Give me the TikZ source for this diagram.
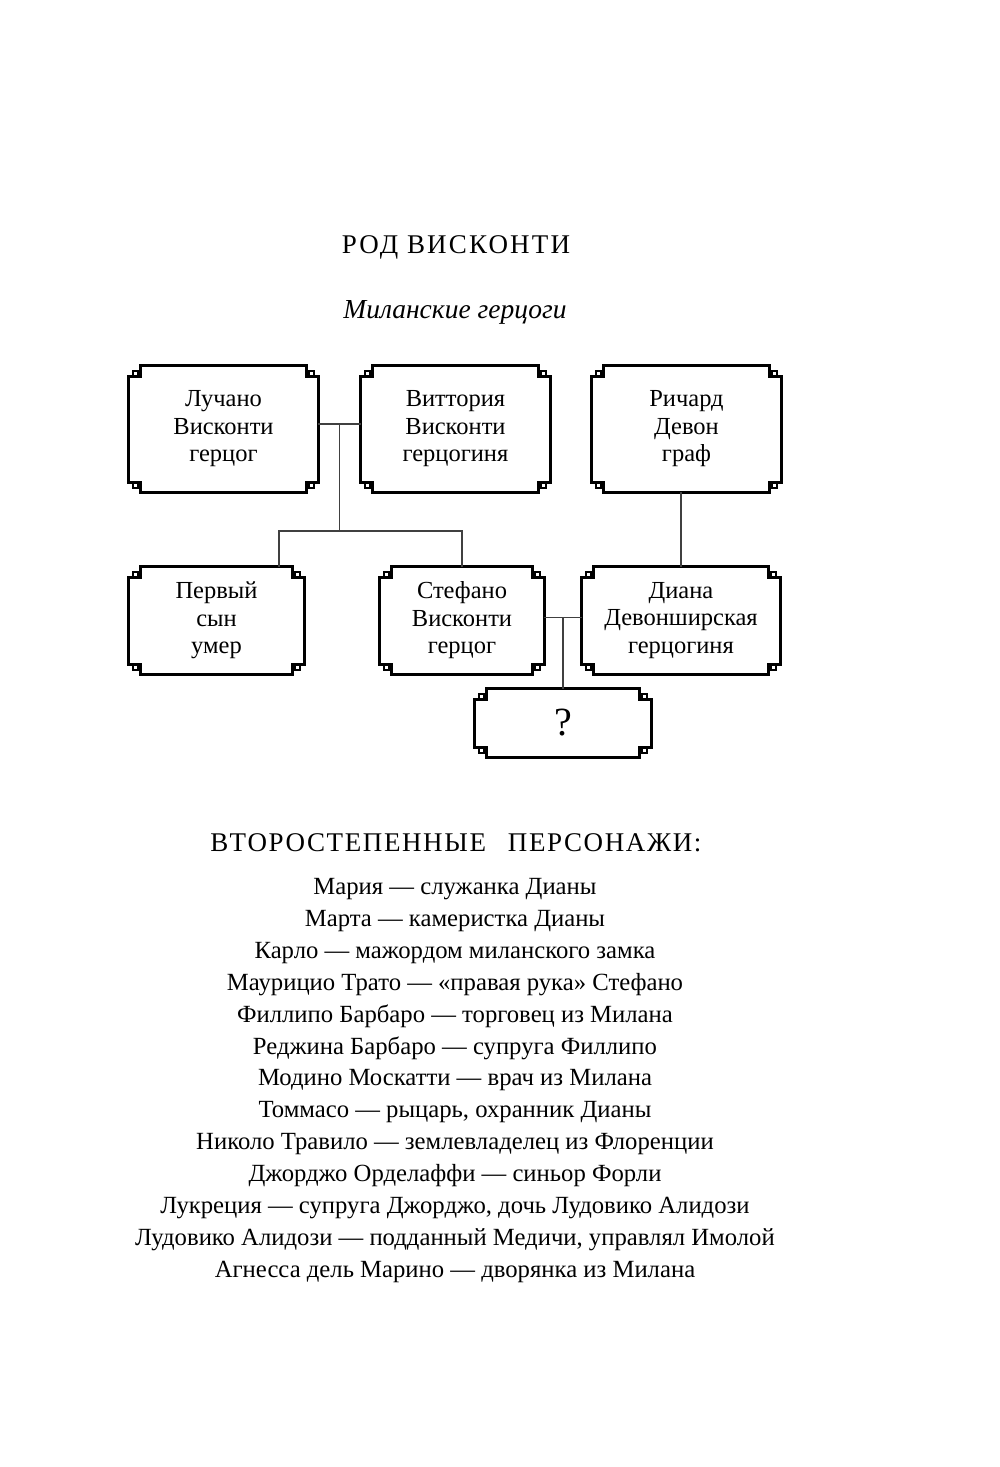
\documentclass[tikz,border=0pt]{standalone}
\usepackage{fontspec}
\setmainfont{Liberation Serif}
\newfontfamily\spacedfont[LetterSpace=6]{Liberation Serif}
\newfontfamily\titlefont[LetterSpace=8]{Liberation Serif}
\usetikzlibrary{calc}
\tikzset{
  boxn/.style={inner sep=0pt, align=center, font=\fontsize{24.5}{27.5}\selectfont},
  frame/.style={draw=black, line width=2.8pt, line join=miter},
  key/.style={draw=black, line width=2pt},
  conn/.style={draw=black!75, line width=1.3pt},
}
\newcommand\fancyframe[1]{%
  \draw[frame] let \p1=(#1.north west), \p2=(#1.south east) in
    ({\x1+12pt},\y1) -- ({\x2-12pt},\y1) -- ({\x2-12pt},{\y1-11pt}) -- (\x2,{\y1-11pt})
    -- (\x2,{\y2+10pt}) -- ({\x2-12pt},{\y2+10pt}) -- ({\x2-12pt},\y2) -- ({\x1+12pt},\y2)
    -- ({\x1+12pt},{\y2+10pt}) -- (\x1,{\y2+10pt}) -- (\x1,{\y1-11pt}) -- ({\x1+12pt},{\y1-11pt}) -- cycle;
  \draw[key] let \p1=(#1.north west), \p2=(#1.south east) in
    ({\x1+4pt},{\y1-11pt}) rectangle ({\x1+9pt},{\y1-5pt})
    ({\x2-4pt},{\y1-11pt}) rectangle ({\x2-9pt},{\y1-5pt})
    ({\x1+4pt},{\y2+10pt}) rectangle ({\x1+9pt},{\y2+4pt})
    ({\x2-4pt},{\y2+10pt}) rectangle ({\x2-9pt},{\y2+4pt});
}
\begin{document}
\begin{tikzpicture}[x=1pt,y=-1pt]
\useasboundingbox (0,0) rectangle (1000,1467);
\node[font=\titlefont\fontsize{27}{30}\selectfont] (title) at (456,247) {РОД ВИСКОНТИ};
\node[font=\itshape\fontsize{27.5}{30}\selectfont] (sub) at (455,312) {Миланские герцоги};

\node[boxn, minimum width=189pt, minimum height=126pt] (luc) at (223.5,429) {Лучано\\Висконти\\герцог};
\node[boxn, minimum width=189pt, minimum height=126pt] (vit) at (455.5,429) {Виттория\\Висконти\\герцогиня};
\node[boxn, minimum width=189pt, minimum height=126pt] (rich) at (686.5,429) {Ричард\\Девон\\граф};
\node[boxn, minimum width=175pt, minimum height=107pt] (perv) at (216.5,620.5) {Первый\\сын\\умер};
\node[boxn, minimum width=164pt, minimum height=107pt] (stef) at (462,620.5) {Стефано\\Висконти\\герцог};
\node[boxn, minimum width=198pt, minimum height=107pt] (dian) at (681,620.5) {Диана\\Девонширская\\герцогиня};
\node[boxn, minimum width=176pt, minimum height=68pt, font=\fontsize{40}{44}\selectfont] (q) at (563,723) {?};

\foreach \b in {luc,vit,rich,perv,stef,dian,q} {\fancyframe{\b}}

% connectors
\coordinate (m1) at ($([yshift=5pt]luc.east)!.5!([yshift=5pt]vit.west)$);
\coordinate (j1) at (m1 |- 0,531);
\coordinate (c1) at (279,531);
\coordinate (c2) at (stef.north |- j1);
\draw[conn] ([yshift=5pt]luc.east) -- ([yshift=5pt]vit.west);
\draw[conn] (m1) -- (j1);
\draw[conn] (c1 |- perv.north) -- (c1) -- (c2) -- (stef.north);
\draw[conn] (dian.north) -- (dian.north |- rich.south);
\coordinate (m2) at ($([yshift=3pt]stef.east)!.5!([yshift=3pt]dian.west)$);
\draw[conn] ([yshift=3pt]stef.east) -- ([yshift=3pt]dian.west);
\draw[conn] (m2) -- (m2 |- q.north);

\node[font=\spacedfont\fontsize{27}{30}\selectfont] (sec) at (456,843) {ВТОРОСТЕПЕННЫЕ\hspace{0.5em} ПЕРСОНАЖИ:};
\node[align=center, font=\fontsize{24.7}{31.9}\selectfont] (list) at (455,1080.5) {%
Мария — служанка Дианы\\
Марта — камеристка Дианы\\
Карло — мажордом миланского замка\\
Маурицио Трато — «правая рука» Стефано\\
Филлипо Барбаро — торговец из Милана\\
Реджина Барбаро — супруга Филлипо\\
Модино Москатти — врач из Милана\\
Томмасо — рыцарь, охранник Дианы\\
Николо Травило — землевладелец из Флоренции\\
Джорджо Орделаффи — синьор Форли\\
Лукреция — супруга Джорджо, дочь Лудовико Алидози\\
Лудовико Алидози — подданный Медичи, управлял Имолой\\
Агнесса дель Марино — дворянка из Милана};
\end{tikzpicture}
\end{document}
